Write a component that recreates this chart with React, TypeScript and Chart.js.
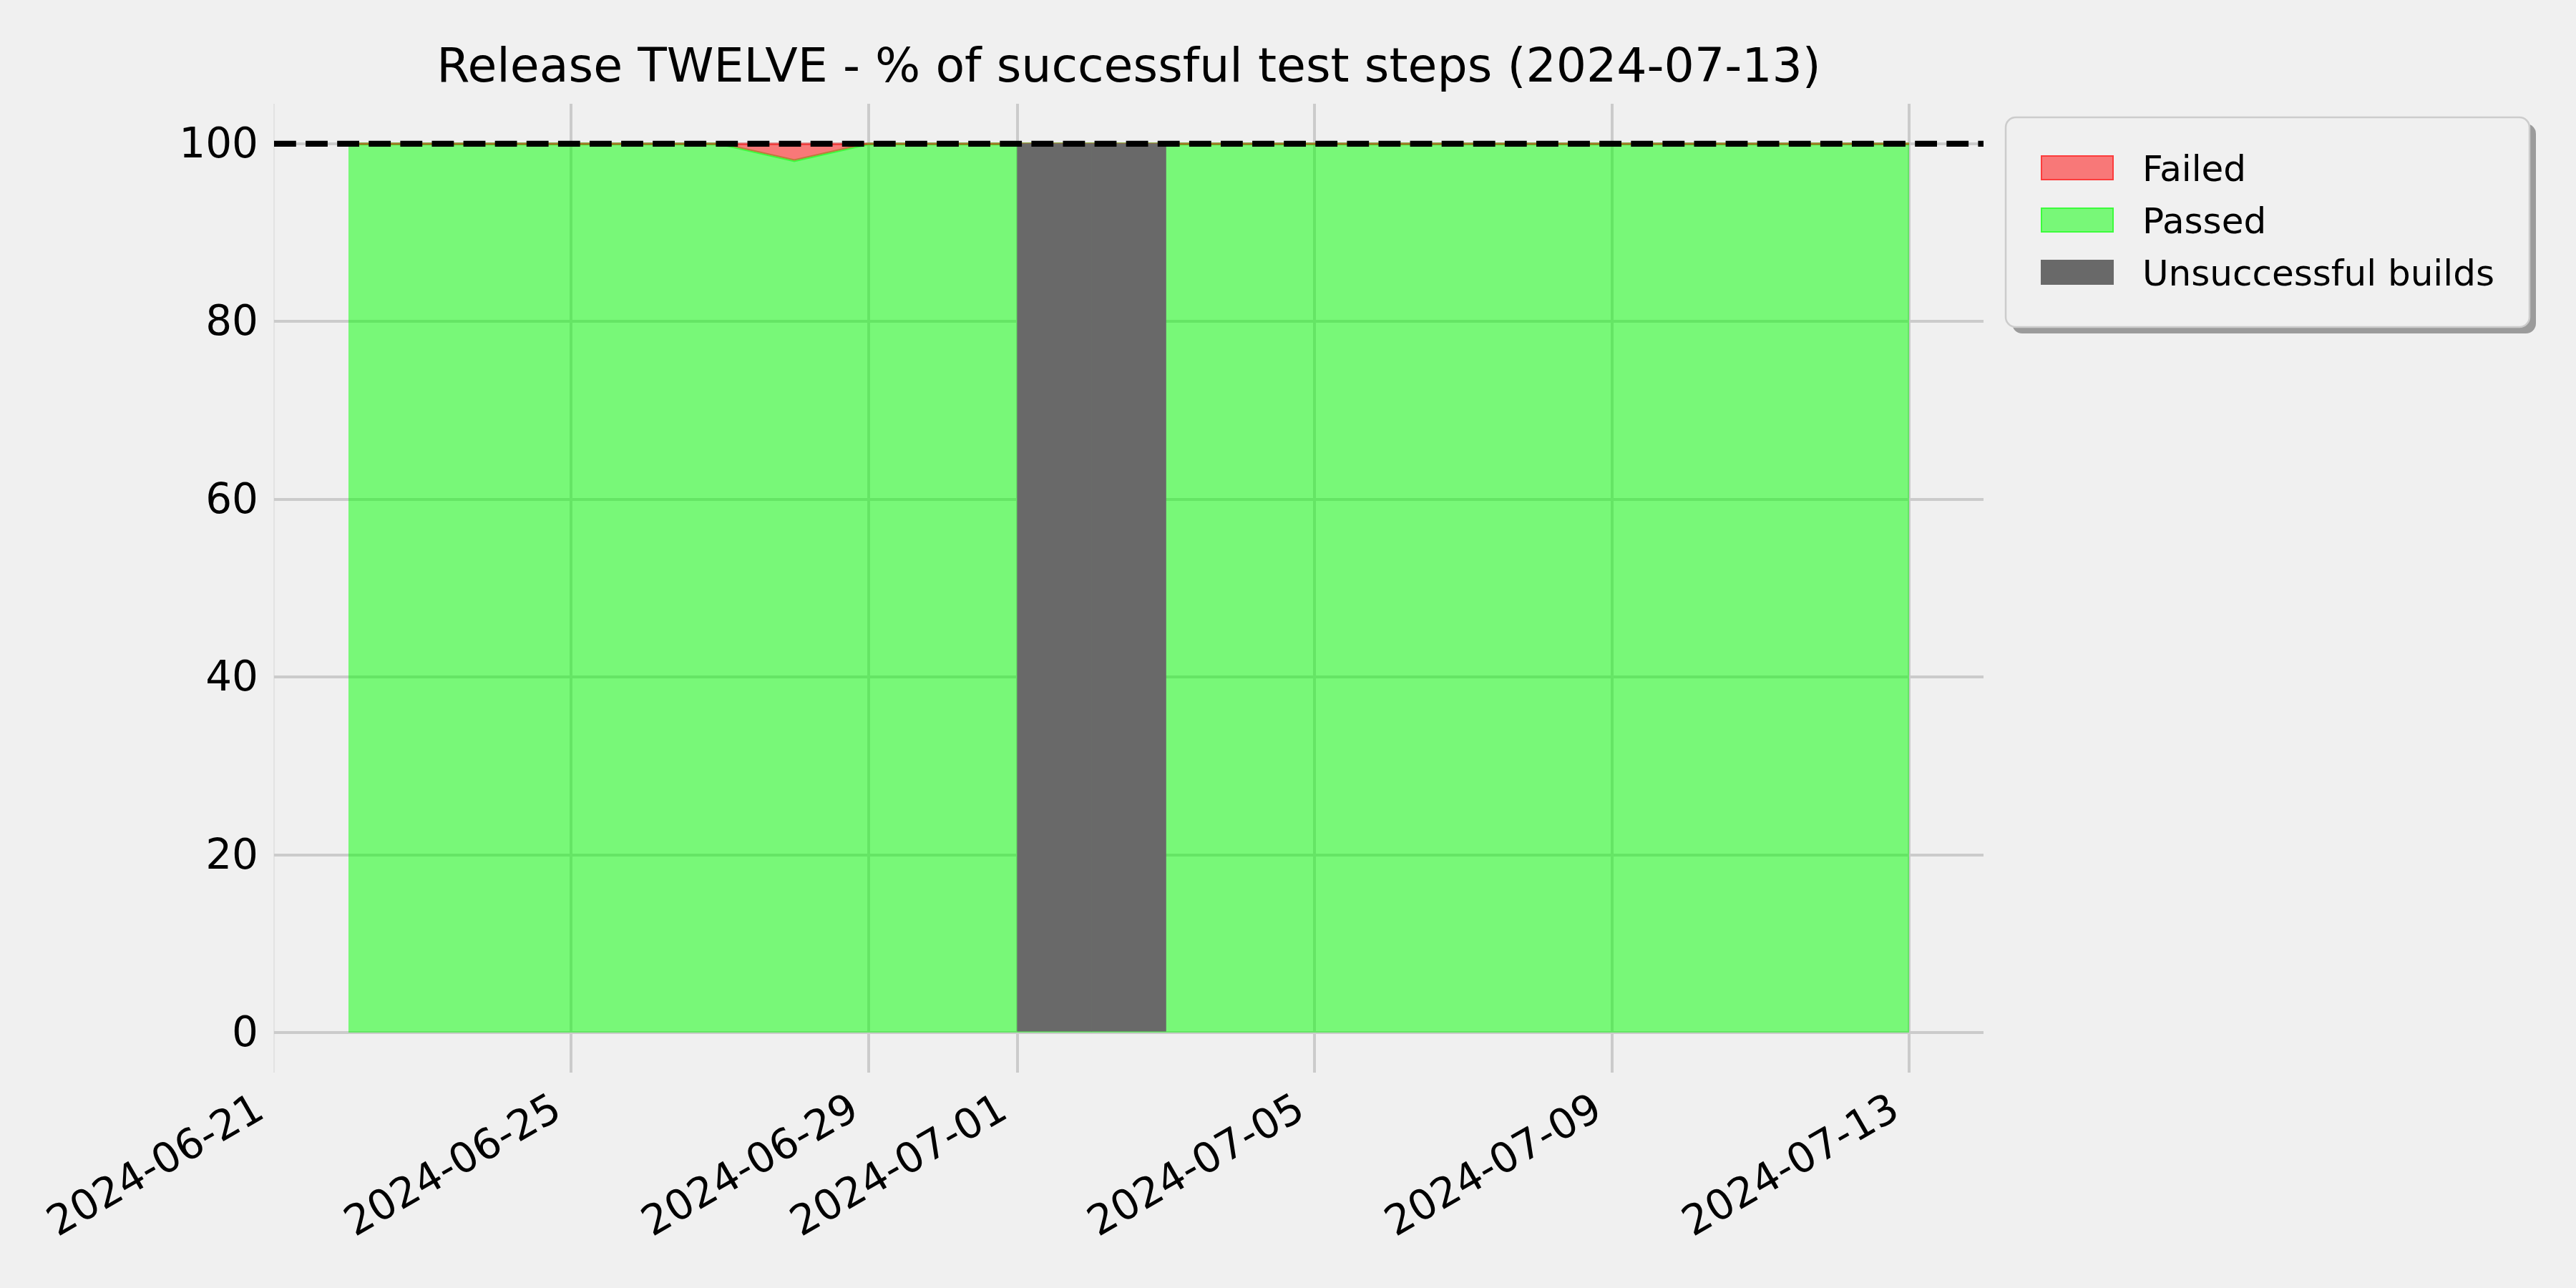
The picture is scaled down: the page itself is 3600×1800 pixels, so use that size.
import { useEffect, useRef } from 'react';
import { Chart, registerables } from 'chart.js';

Chart.register(...registerables);

// ---------------- data ----------------
const TITLE = 'Release TWELVE - % of successful test steps (2024-07-13)';
const AXIS_START = '2024-06-21';
const AXIS_END = '2024-07-14';

const testDates = [
  '2024-06-22', '2024-06-23', '2024-06-24', '2024-06-25', '2024-06-26',
  '2024-06-27', '2024-06-28', '2024-06-29', '2024-06-30',
  '2024-07-03', '2024-07-04', '2024-07-05', '2024-07-06', '2024-07-07',
  '2024-07-08', '2024-07-09', '2024-07-10', '2024-07-11', '2024-07-12',
  '2024-07-13',
];
const passedPct = [100, 100, 100, 100, 100, 100, 98.1, 100, 100, 100, 100, 100, 100, 100, 100, 100, 100, 100, 100, 100];
const failedPct = [0, 0, 0, 0, 0, 0, 1.9, 0, 0, 0, 0, 0, 0, 0, 0, 0, 0, 0, 0, 0];
const unsuccessfulBuildDates = ['2024-07-01', '2024-07-02'];
const unsuccessfulHeight = 100;
const targetPct = 100;

const xTickDates = ['2024-06-21', '2024-06-25', '2024-06-29', '2024-07-01', '2024-07-05', '2024-07-09', '2024-07-13'];
const yTickValues = [0, 20, 40, 60, 80, 100];
const yMin = -4.5;
const yMax = 104.5;

const legendOrder = ['Failed', 'Passed', 'Unsuccessful builds'];

// ---------------- helpers ----------------
const DAY = 86400000;
const toUTC = (d: string) => {
  const [y, m, dd] = d.split('-').map(Number);
  return Date.UTC(y, m - 1, dd);
};
const dayIndex = (d: string) => (toUTC(d) - toUTC(AXIS_START)) / DAY;
const dayLabel = (v: number) => new Date(toUTC(AXIS_START) + Math.round(v) * DAY).toISOString().slice(0, 10);

const FONT = '"DejaVu Sans", "Liberation Sans", sans-serif';
const BG = '#f0f0f0';

const backgroundPlugin = {
  id: 'mplBackground',
  beforeDraw(chart: any) {
    const { ctx, width, height } = chart;
    ctx.save();
    ctx.fillStyle = BG;
    ctx.fillRect(0, 0, width, height);
    ctx.restore();
  },
};

const titlePlugin = {
  id: 'mplTitle',
  afterDraw(chart: any) {
    const { ctx, chartArea } = chart;
    ctx.save();
    ctx.font = `66.5px ${FONT}`;
    ctx.fillStyle = '#000';
    ctx.textAlign = 'center';
    ctx.textBaseline = 'alphabetic';
    ctx.fillText(TITLE, (chartArea.left + chartArea.right) / 2, 114);
    ctx.restore();
  },
};

function roundRect(ctx: CanvasRenderingContext2D, x: number, y: number, w: number, h: number, r: number) {
  ctx.beginPath();
  ctx.moveTo(x + r, y);
  ctx.lineTo(x + w - r, y);
  ctx.arcTo(x + w, y, x + w, y + r, r);
  ctx.lineTo(x + w, y + h - r);
  ctx.arcTo(x + w, y + h, x + w - r, y + h, r);
  ctx.lineTo(x + r, y + h);
  ctx.arcTo(x, y + h, x, y + h - r, r);
  ctx.lineTo(x, y + r);
  ctx.arcTo(x, y, x + r, y, r);
  ctx.closePath();
}

const legendPlugin = {
  id: 'mplLegend',
  afterDraw(chart: any) {
    const { ctx, chartArea } = chart;
    const bx = chartArea.right + 31;
    const by = chartArea.top + 19;
    const bw = 732;
    const bh = 293;
    ctx.save();
    // shadow
    ctx.fillStyle = '#9b9b9b';
    roundRect(ctx, bx + 9, by + 9, bw, bh, 14);
    ctx.fill();
    // frame
    ctx.fillStyle = BG;
    ctx.strokeStyle = '#cccccc';
    ctx.lineWidth = 2.5;
    roundRect(ctx, bx, by, bw, bh, 14);
    ctx.fill();
    ctx.stroke();

    ctx.font = `50px ${FONT}`;
    ctx.textAlign = 'left';
    ctx.textBaseline = 'alphabetic';
    legendOrder.forEach((label, i) => {
      const ds = chart.data.datasets.find((d: any) => d.label === label);
      if (!ds) return;
      const px = bx + 49;
      const py = by + 53 + i * 73;
      ctx.fillStyle = ds.backgroundColor;
      ctx.fillRect(px, py, 102, 35);
      if (ds.type !== 'bar') {
        ctx.strokeStyle = ds.borderColor;
        ctx.lineWidth = 2;
        ctx.strokeRect(px + 1, py + 1, 100, 33);
      }
      ctx.fillStyle = '#000';
      ctx.fillText(label, bx + 191, py + 36);
    });
    ctx.restore();
  },
};

export default function App() {
  const canvasRef = useRef<HTMLCanvasElement | null>(null);

  useEffect(() => {
    document.body.style.margin = '0';
    document.body.style.background = BG;
    const canvas = canvasRef.current;
    if (!canvas) return;

    const xMin = dayIndex(AXIS_START);
    const xMax = dayIndex(AXIS_END);

    const chart = new Chart(canvas, {
      type: 'line',
      data: {
        datasets: [
          {
            label: 'Passed',
            data: testDates.map((d, i) => ({ x: dayIndex(d), y: passedPct[i] })),
            fill: 'origin',
            backgroundColor: 'rgba(0,255,0,0.5)',
            borderColor: 'rgba(0,255,0,0.5)',
            borderWidth: 4,
            pointRadius: 0,
            tension: 0,
            order: 3,
          },
          {
            label: 'Failed',
            data: testDates.map((d, i) => ({ x: dayIndex(d), y: passedPct[i] + failedPct[i] })),
            fill: '-1',
            backgroundColor: 'rgba(255,0,0,0.5)',
            borderColor: 'rgba(255,0,0,0.5)',
            borderWidth: 3,
            pointRadius: 0,
            tension: 0,
            order: 2,
          },
          {
            type: 'bar',
            label: 'Unsuccessful builds',
            data: unsuccessfulBuildDates.map((d) => ({ x: dayIndex(d) + 0.5, y: unsuccessfulHeight })),
            backgroundColor: '#696969',
            borderWidth: 0,
            barPercentage: 1,
            categoryPercentage: 1,
            order: 1,
          },
          {
            label: 'target',
            data: [
              { x: xMin, y: targetPct },
              { x: xMax, y: targetPct },
            ],
            borderColor: '#000000',
            borderWidth: 8.3,
            borderDash: [30.8, 13.3],
            borderCapStyle: 'butt',
            pointRadius: 0,
            fill: false,
            order: 0,
          },
        ] as any,
      },
      options: {
        responsive: false,
        maintainAspectRatio: false,
        animation: false,
        devicePixelRatio: 1,
        layout: { padding: { top: 145, right: 828, left: 0, bottom: 0 } },
        plugins: {
          legend: { display: false },
          title: { display: false },
          tooltip: { enabled: false },
        },
        scales: {
          x: {
            type: 'linear',
            min: xMin,
            max: xMax,
            offset: false,
            border: { display: false },
            grid: {
              offset: false,
              drawTicks: false,
              color: (c: any) => (c.tick && c.tick.value === xMin ? 'rgba(203,203,203,0.35)' : '#cbcbcb'),
              lineWidth: (c: any) => (c.tick && c.tick.value === xMin ? 2 : 4),
            },
            ticks: {
              autoSkip: false,
              minRotation: 30,
              maxRotation: 30,
              padding: 18,
              labelOffset: -18,
              color: '#000',
              font: { family: FONT, size: 58 },
              callback: (v: any) => dayLabel(Number(v)),
            },
            afterBuildTicks: (s: any) => {
              s.ticks = xTickDates.map((d) => ({ value: dayIndex(d) }));
            },
            afterFit: (s: any) => {
              s.height = 301;
            },
          },
          y: {
            type: 'linear',
            min: yMin,
            max: yMax,
            border: { display: false },
            grid: { drawTicks: false, color: '#cbcbcb', lineWidth: 4 },
            ticks: {
              padding: 22,
              labelOffset: 4,
              color: '#000',
              font: { family: FONT, size: 58 },
            },
            afterBuildTicks: (s: any) => {
              s.ticks = yTickValues.map((v) => ({ value: v }));
            },
            afterFit: (s: any) => {
              s.width = 383;
            },
          },
        },
      } as any,
      plugins: [backgroundPlugin, titlePlugin, legendPlugin],
    });

    return () => chart.destroy();
  }, []);

  return (
    <div style={{ width: 3600, height: 1800, background: BG }}>
      <canvas ref={canvasRef} width={3600} height={1800} style={{ display: 'block', width: 3600, height: 1800 }} />
    </div>
  );
}
